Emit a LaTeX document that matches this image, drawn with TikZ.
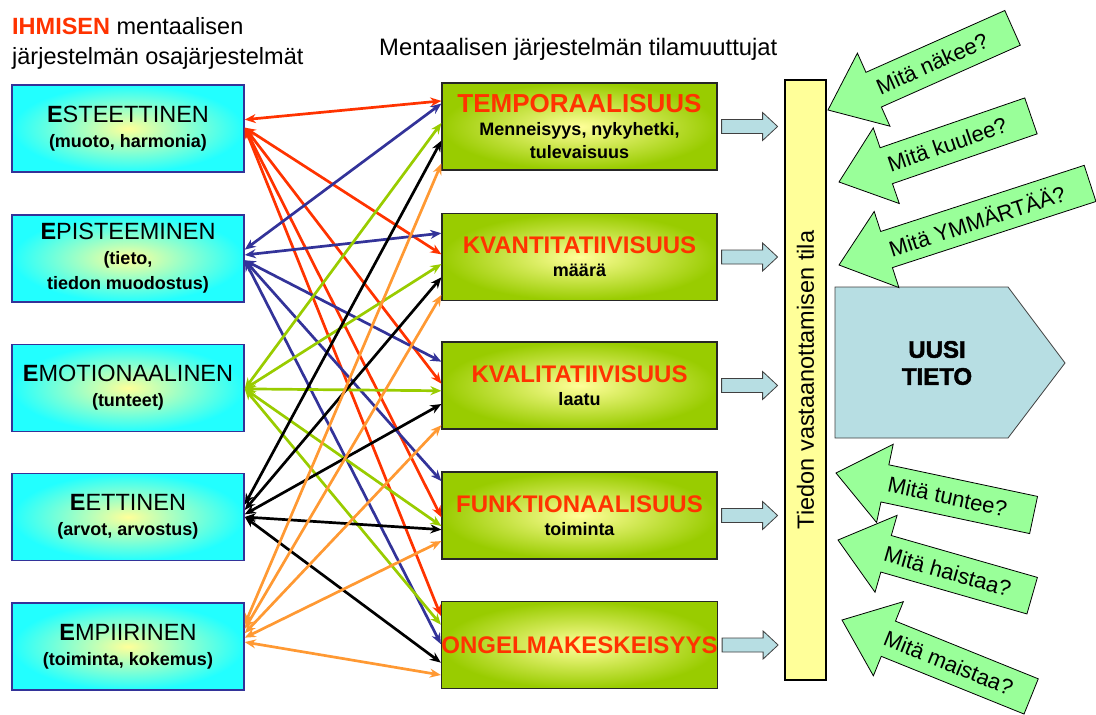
\documentclass[tikz,border=0pt]{standalone}
\usepackage{fontspec}
\setmainfont{Liberation Sans}
\newfontfamily\heavyfont{Liberation Sans}[FakeBold=2]
\usetikzlibrary{arrows.meta,calc}

\definecolor{ihred}{HTML}{FF3300}
\definecolor{ihblue}{HTML}{333399}
\definecolor{ihgreen}{HTML}{99CC00}
\definecolor{ihorange}{HTML}{FF9933}
\definecolor{boxcyan}{HTML}{22FFFF}
\definecolor{boxyellow}{HTML}{FFFF99}
\definecolor{feedblue}{HTML}{B7DEE3}
\definecolor{askgreen}{HTML}{99FF99}

\newcommand{\subline}[1]{{\fontsize{18}{22}\selectfont\bfseries #1}}

\tikzset{
  subsys/.style={draw=ihblue, line width=1.5pt, inner color=boxyellow, outer color=boxcyan,
    minimum width=232pt, minimum height=87pt, inner sep=0pt, align=center,
    font=\fontsize{23.5}{25}\selectfont},
  statevar/.style={draw=black!85, line width=1.2pt, inner color=boxyellow, outer color=ihgreen,
    minimum width=275pt, minimum height=87pt, inner sep=0pt, align=center,
    font=\fontsize{24}{23}\selectfont\bfseries},
  link/.style={line width=2.7pt, arrows={Stealth[length=11pt,width=9pt]-Stealth[length=11pt,width=9pt]}},
  feed/.style={draw=black!75, line width=0.8pt, fill=feedblue},
  askarrow/.style={draw=black, line width=0.8pt, fill=askgreen},
  asktext/.style={font=\fontsize{22}{24}\selectfont, transform shape, inner sep=0pt}
}

\begin{document}
\begin{tikzpicture}[x=1pt, y=-1pt]
    \useasboundingbox (0,0) rectangle (1096,715);

    % headers
    \node [anchor=north west, align=left, inner sep=0pt, font=\fontsize{23.5}{30}\selectfont] (head1) at (12,17)
        {\textcolor{ihred}{\bfseries IHMISEN} mentaalisen\\järjestelmän osajärjestelmät};
    \node [anchor=base west, inner sep=0pt, font=\fontsize{23.8}{26}\selectfont] (head2) at (379,55)
        {Mentaalisen järjestelmän tilamuuttujat};

    % osajarjestelmat
    \node [subsys] (es)  at (128,128.5) {{\bfseries E}STEETTINEN\\\subline{(muoto, harmonia)}};
    \node [subsys] (ep)  at (128,258.5) {{\bfseries E}PISTEEMINEN\\\subline{(tieto,}\\\subline{tiedon muodostus)}};
    \node [subsys] (em)  at (128,388)   {{\bfseries E}MOTIONAALINEN\\\subline{(tunteet)}};
    \node [subsys] (ee)  at (128,517)   {{\bfseries E}ETTINEN\\\subline{(arvot, arvostus)}};
    \node [subsys] (emp) at (128,646.5) {{\bfseries E}MPIIRINEN\\\subline{(toiminta, kokemus)}};

    % tilamuuttujat
    \node [statevar] (tp) at (579.5,126.5) {\textcolor{ihred}{\fontsize{26}{23}\selectfont TEMPORAALISUUS}\\\subline{Menneisyys, nykyhetki,}\\\subline{tulevaisuus}};
    \node [statevar] (kv) at (579.5,257)   {\textcolor{ihred}{KVANTITATIIVISUUS}\\\subline{määrä}};
    \node [statevar] (kl) at (579.5,385.5) {\textcolor{ihred}{KVALITATIIVISUUS}\\\subline{laatu}};
    \node [statevar] (fu) at (579.5,515.5) {\textcolor{ihred}{FUNKTIONAALISUUS}\\\subline{toiminta}};
    \node [statevar] (og) at (579.5,645)   {\textcolor{ihred}{ONGELMAKESKEISYYS}};

    % yhteydet
    \foreach \t/\a/\b in {tp/0.40/0.21, kv/0.49/0.47, kl/0.49/0.48, fu/0.49/0.52, og/0.49/0.17}
        \draw [link, ihred] ($(es.north east)!\a!(es.south east)$) -- ($(\t.north west)!\b!(\t.south west)$);
    \foreach \t/\a/\b in {tp/0.40/0.24, kv/0.46/0.23, kl/0.52/0.23, fu/0.52/0.11, og/0.52/0.49}
        \draw [link, ihblue] ($(ep.north east)!\a!(ep.south east)$) -- ($(\t.north west)!\b!(\t.south west)$);
    \foreach \t/\a/\b in {tp/0.51/0.46, kv/0.51/0.58, kl/0.51/0.56, fu/0.51/0.62, og/0.51/0.27}
        \draw [link, ihgreen] ($(em.north east)!\a!(em.south east)$) -- ($(\t.north west)!\b!(\t.south west)$);
    \foreach \t/\a/\b in {tp/0.36/0.66, kv/0.42/0.73, kl/0.47/0.71, fu/0.50/0.66, og/0.50/0.70}
        \draw [link, black] ($(ee.north east)!\a!(ee.south east)$) -- ($(\t.north west)!\b!(\t.south west)$);
    \foreach \t/\a/\b in {tp/0.25/0.92, kv/0.30/0.93, kl/0.35/0.95, fu/0.40/0.79, og/0.45/0.84}
        \draw [link, ihorange] ($(emp.north east)!\a!(emp.south east)$) -- ($(\t.north west)!\b!(\t.south west)$);

    % vastaanotto
    \node [draw=black, line width=1.2pt, fill=boxyellow, rotate=90, minimum width=600pt, minimum height=41pt,
        inner sep=0pt, font=\fontsize{23.5}{25}\selectfont] (bar) at (805.5,380) {Tiedon vastaanottamisen tila};
    \foreach \n in {tp,kv,kl,fu,og}
        \draw [feed] ([xshift=4pt]\n.east) ++(0,7) -- ++(41,0) -- ++(0,7) -- ++(15,-14) -- ++(-15,-14) -- ++(0,7) -- ++(-41,0) -- cycle;

    % uusi tieto
    \draw [feed] (835,287) -- (1008,287) -- (1065,363) -- (1008,438) -- (835,438) -- cycle;
    \node [align=center, font=\fontsize{24}{27}\heavyfont\bfseries] (uusi) at (937,363) {UUSI\\TIETO};

    % aistit
    \foreach \tx/\ty/\ang/\len/\txt [count=\i] in {828/110/24/202/Mitä näkee?, 839/182/19/203/Mitä kuulee?,
        839/265/18/264/Mitä YMMÄRTÄÄ?, 836/473/-12/202/Mitä tuntee?, 838/540/-16/202/Mitä haistaa?,
        842/620/-22/204/Mitä maistaa?}
    {
        \begin{scope}[shift={(\tx,\ty)}, rotate=\ang]
            \draw [askarrow] (0,0) -- (50,-40) -- (50,-19) -- (\len,-19) -- (\len,19) -- (50,19) -- (50,40) -- cycle;
            \node [asktext] (ask\i) at ({(\len+50)/2-12},0) {\txt};
        \end{scope}
    }
\end{tikzpicture}
\end{document}
